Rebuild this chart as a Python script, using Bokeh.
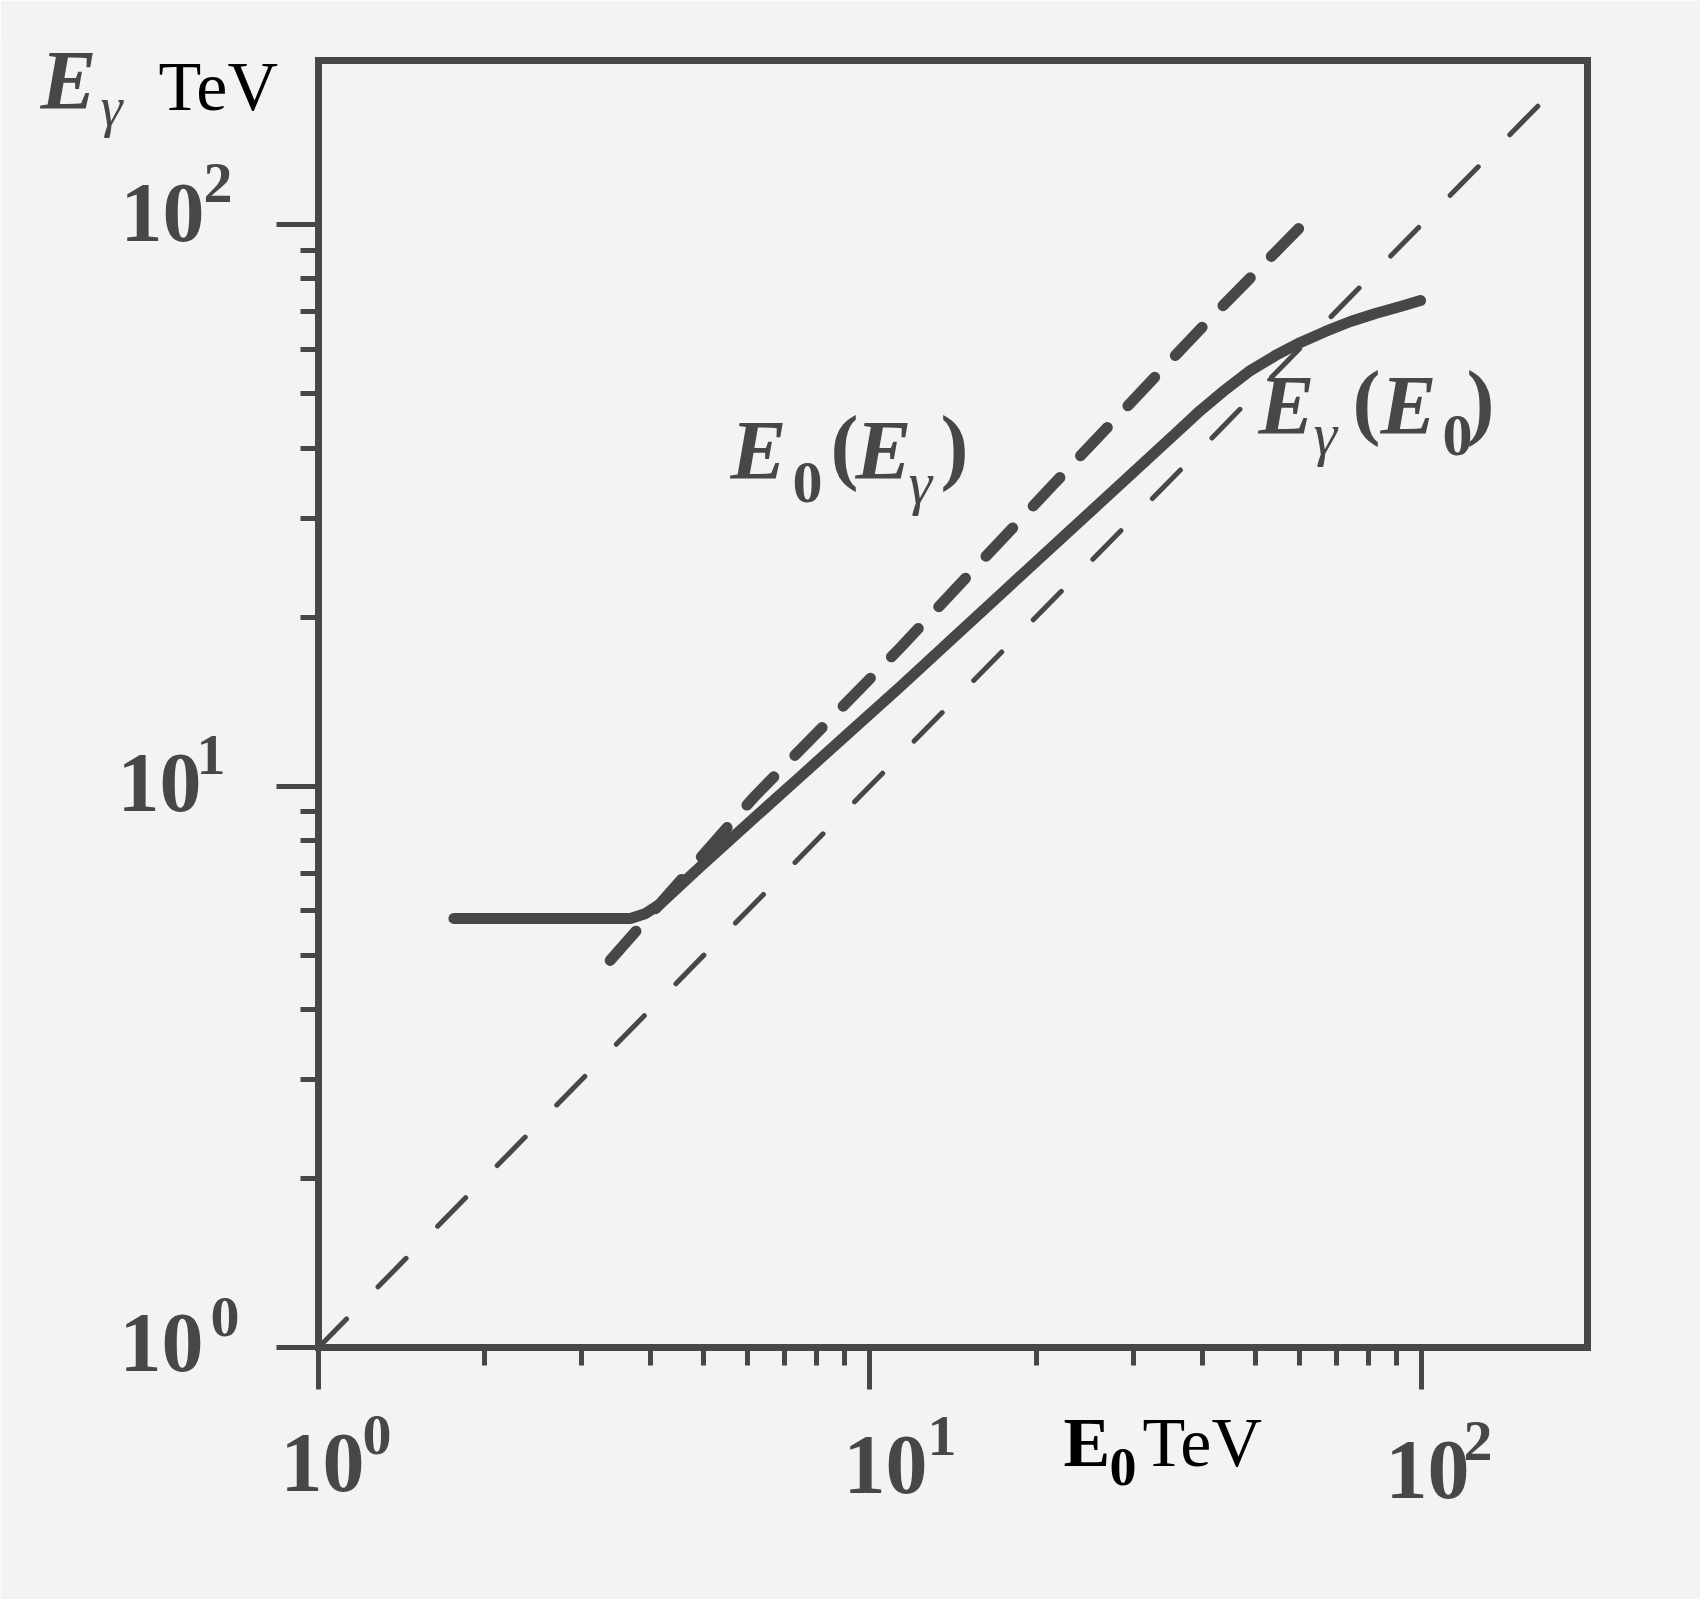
import math
from bokeh.plotting import figure
from bokeh.models import Label, FixedTicker, CustomJSTickFormatter, Range1d, BoxAnnotation
from bokeh.embed import file_html
from bokeh.resources import INLINE

# ---------------- data ----------------
# thin dashed diagonal  E_gamma = E_0
diag_e0 = [1.0, 165.0]
diag_eg = [1.0, 165.0]

# thick dashed curve  E_0(E_gamma)
inv_e0 = [3.38, 6.15, 11.36, 21.0, 41.1, 61.1]
inv_eg = [4.89, 9.54, 17.65, 33.6, 67.5, 100.4]

# solid curve  E_gamma(E_0)
fwd_e0 = [1.76, 3.68, 3.92, 4.17, 4.93, 6.07, 7.48, 9.22, 11.36, 13.99, 17.24,
          21.24, 26.18, 32.26, 35.81, 39.74, 44.12, 48.97, 54.36, 60.35, 66.97,
          74.34, 82.52, 91.58, 99.6]
fwd_eg = [5.81, 5.81, 5.93, 6.17, 7.19, 8.65, 10.40, 12.51, 15.04, 18.16, 21.94,
          26.49, 31.99, 38.64, 42.46, 46.67, 50.84, 54.98, 58.46, 61.66, 64.51,
          67.20, 69.44, 71.46, 73.24]

major_ticks = [1, 10, 100]
x_minor_ticks = [2, 3, 4, 5, 6, 7, 8, 9, 20, 30, 40, 50, 60, 70, 80, 90]
y_minor_ticks = [2, 3, 4, 5, 6, 7, 8, 9, 20, 30, 40, 50, 60, 70, 80, 90]
x_start, x_end = 1.0, 200.0
y_start, y_end = 1.0, 196.0
tick_base = "10"
tick_exponents = ["0", "1", "2"]

# ---------------- layout ----------------
W, H = 1700, 1599
FL, FR, FT, FB = 318, 1587, 60, 1347     # box of the plot in page pixels
TB, RB = 40, 40                          # top / right borders of the canvas frame
INK = "#474747"
BG = "#f3f3f2"
SERIF = "Liberation Serif"


def dx(px):
    return x_start * 10 ** ((px - FL) / (FR - FL) * math.log10(x_end / x_start))


def dy(py):
    return y_start * 10 ** ((FB - py) / (FB - FT) * math.log10(y_end / y_start))


p = figure(width=W, height=H, x_axis_type="log", y_axis_type="log",
           x_range=Range1d(dx(0), dx(W - RB)), y_range=Range1d(dy(H), dy(TB)),
           x_axis_location="above", y_axis_location="right",
           output_backend="svg", toolbar_location=None,
           min_border_left=0, min_border_bottom=0,
           min_border_top=TB, min_border_right=RB)
p.background_fill_color = BG
p.border_fill_color = BG
p.outline_line_color = None
p.grid.visible = False

# the box
p.add_layout(BoxAnnotation(left=x_start, right=x_end, bottom=y_start, top=y_end,
                           fill_color=None, fill_alpha=0,
                           line_color=INK, line_alpha=1.0, line_width=7,
                           line_join="miter"))

# axes drawn along the bottom and left edges of the box, ticks pointing outward
for ax, minor, loc, bnd in ((p.xaxis, x_minor_ticks, y_start, (x_start, x_end)),
                            (p.yaxis, y_minor_ticks, x_start, (y_start, y_end))):
    ax.fixed_location = loc
    ax.bounds = bnd
    ax.ticker = FixedTicker(ticks=major_ticks, minor_ticks=minor)
    ax.formatter = CustomJSTickFormatter(code="return ''")
    ax.major_label_standoff = 0
    ax.axis_line_color = INK
    ax.axis_line_width = 7
    ax.major_tick_line_color = INK
    ax.major_tick_line_width = 5
    ax.minor_tick_line_color = INK
    ax.minor_tick_line_width = 5
    ax.major_tick_out = 0
    ax.major_tick_in = 42
    ax.minor_tick_out = 0
    ax.minor_tick_in = 18

p.line(diag_e0, diag_eg, line_color=INK, line_width=5,
       line_dash="40 45", line_cap="round")
p.line(inv_e0, inv_eg, line_color=INK, line_width=11,
       line_dash="39 30", line_cap="round")
p.line(fwd_e0, fwd_eg, line_color=INK, line_width=11,
       line_cap="round", line_join="round")


def put(text, px, py, size, style="bold", color=INK):
    # py is the wanted baseline; the renderer sits text about 0.3 em lower
    p.add_layout(Label(x=dx(px), y=dy(py - 0.3 * size), text=text,
                       text_font=SERIF, text_font_size=f"{size}px",
                       text_font_style=style, text_color=color,
                       text_align="left", text_baseline="alphabetic"))


# tick labels  10^n
x_tick_pos = [(280, 1488, 362, 1452), (843, 1490, 927, 1453), (1385, 1495, 1463, 1458)]
y_tick_pos = [(119, 1368, 210, 1334), (117, 808, 196, 772), (120, 238, 203, 200)]
for exp, (bx, by, sx, sy) in zip(tick_exponents, x_tick_pos):
    put(tick_base, bx, by, 84)
    put(exp, sx, sy, 58)
for exp, (bx, by, sx, sy) in zip(tick_exponents, y_tick_pos):
    put(tick_base, bx, by, 84)
    put(exp, sx, sy, 58)

# y axis title  E_gamma TeV
put("E", 40, 105, 84, "bold italic")
put("\u03b3", 100, 123, 56, "italic")
put("TeV", 158, 107, 70, "normal", "#000000")

# x axis title  E_0 TeV
put("E", 1063, 1463, 70, "bold", "#000000")
put("0", 1109, 1483, 54, "bold", "#000000")
put("TeV", 1142, 1463, 70, "normal", "#000000")

# curve label  E_0(E_gamma)
put("E", 730, 475, 84, "bold italic")
put("0", 792, 500, 60, "bold")
put("(", 830, 470, 84, "bold")
put("E", 855, 475, 84, "bold italic")
put("\u03b3", 908, 500, 60, "italic")
put(")", 940, 470, 84, "bold")

# curve label  E_gamma(E_0)
put("E", 1258, 430, 84, "bold italic")
put("\u03b3", 1313, 451, 60, "italic")
put("(", 1352, 425, 84, "bold")
put("E", 1380, 430, 84, "bold italic")
put("0", 1442, 453, 60, "bold")
put(")", 1466, 425, 84, "bold")

open("out.html", "w").write(file_html(p, INLINE))
